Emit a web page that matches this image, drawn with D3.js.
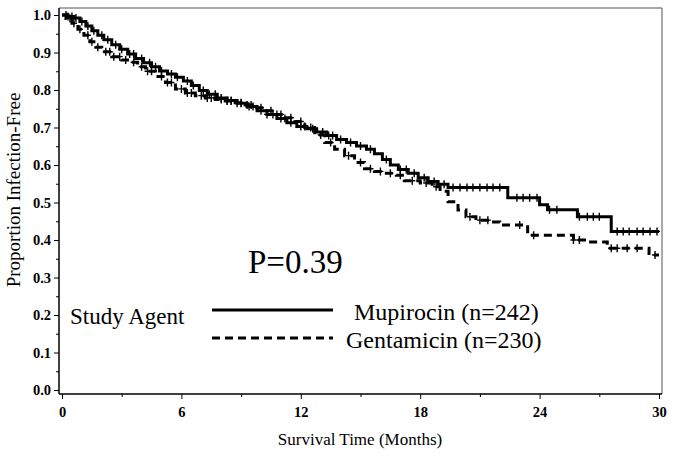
<!DOCTYPE html>
<html>
<head>
<meta charset="utf-8">
<script src="https://cdn.jsdelivr.net/npm/d3@7"></script>
<style>
  body { margin: 0; background: #fff; }
  svg { display: block; }
  text { font-family: "Liberation Serif", "Times New Roman", serif; fill: #000; }
  .tick text { font-weight: bold; font-size: 14.5px; }
</style>
</head>
<body>
<svg id="chart" width="673" height="462"></svg>
<script>
// Kaplan-Meier estimates (months, proportion infection-free)
const mupTimes = [0, 0.3, 0.6, 0.9, 1.2, 1.5, 1.8, 2.1, 2.5, 2.9, 3.3, 3.7, 4.1, 4.5, 4.9, 5.3, 5.7, 6.1, 6.5, 6.9,
  7.3, 7.8, 8.3, 8.8, 9.3, 9.8, 10.3, 10.8, 11.3, 11.8, 12.3, 12.8, 13.3, 13.8, 14.3, 14.8, 15.3, 15.7, 16.1, 16.5,
  16.9, 17.4, 17.9, 18.4, 18.9, 19.4, 22.4, 24.0, 24.4, 25.9, 27.6];
const mupSurv = [1.0, 0.996, 0.992, 0.983, 0.971, 0.958, 0.946, 0.934, 0.921, 0.909, 0.896, 0.884, 0.873, 0.862, 0.851, 0.843, 0.834, 0.824, 0.812, 0.799,
  0.789, 0.779, 0.772, 0.765, 0.756, 0.745, 0.735, 0.724, 0.713, 0.703, 0.697, 0.688, 0.679, 0.668, 0.660, 0.651, 0.642, 0.630, 0.615, 0.600,
  0.588, 0.578, 0.566, 0.556, 0.549, 0.540, 0.513, 0.494, 0.481, 0.462, 0.423];
const mupCensor = [0.2, 0.3, 0.5, 0.7, 1.0, 1.3, 1.6, 2.0, 2.3, 2.7, 3.0, 3.4, 3.6, 4.0, 4.4, 4.7, 5.0, 5.5, 5.8, 6.3,
  6.6, 7.1, 7.4, 7.7, 8.0, 8.3, 8.5, 8.8, 9.0, 9.4, 9.6, 10.0, 10.3, 10.6, 11.0, 11.2, 11.5, 12.0, 12.2, 12.6,
  13.1, 13.4, 13.6, 14.0, 14.5, 15.0, 15.5, 16.3, 17.0, 17.3, 17.7, 18.2, 18.7, 19.2, 19.65, 20.0, 20.35, 20.65, 21.0, 21.36,
  21.66, 22.0, 22.86, 23.17, 23.5, 23.87, 24.5, 24.87, 26.0, 26.4, 26.7, 27.0, 27.9, 28.2, 28.5, 28.9, 29.2, 29.55, 29.9];

const genTimes = [0, 0.2, 0.5, 0.8, 1.1, 1.4, 1.7, 2.0, 2.5, 3.0, 3.4, 3.8, 4.2, 4.7, 5.2, 5.7, 6.2, 6.7, 7.2, 7.7,
  8.2, 8.7, 9.2, 9.7, 10.2, 10.7, 11.2, 11.7, 12.2, 12.7, 13.2, 13.7, 14.2, 14.7, 15.2, 15.7, 16.3, 16.8, 17.2, 18.0,
  18.6, 19.0, 19.4, 19.9, 20.3, 20.8, 21.6, 22.0, 23.4, 25.7, 26.4, 27.4, 29.5];
const genSurv = [1.0, 0.991, 0.978, 0.962, 0.946, 0.929, 0.914, 0.902, 0.889, 0.880, 0.874, 0.862, 0.850, 0.836, 0.820, 0.803, 0.792, 0.785, 0.779, 0.775,
  0.771, 0.766, 0.760, 0.753, 0.745, 0.735, 0.726, 0.716, 0.700, 0.680, 0.660, 0.642, 0.625, 0.607, 0.590, 0.583, 0.578, 0.573, 0.558, 0.552,
  0.542, 0.530, 0.502, 0.480, 0.462, 0.453, 0.448, 0.440, 0.413, 0.400, 0.395, 0.378, 0.360];
const genCensor = [0.4, 0.6, 0.9, 1.3, 1.5, 1.8, 2.2, 2.4, 2.6, 2.9, 3.2, 3.6, 4.0, 4.3, 4.5, 5.0, 5.3, 5.5, 6.0, 6.3,
  6.5, 7.0, 7.3, 7.5, 8.0, 8.3, 8.5, 9.0, 9.3, 9.5, 10.0, 10.5, 10.8, 11.0, 11.5, 12.0, 12.5, 13.0, 13.5, 14.4,
  15.0, 15.5, 16.0, 16.5, 17.0, 17.6, 18.3, 18.8, 20.5, 21.0, 21.4, 23.0, 23.7, 25.7, 26.0, 27.6, 27.9, 28.4, 28.9, 29.8];

const xMajor = [0, 6, 12, 18, 24, 30];
const xMinor = [3, 9, 15, 21, 27];
const yMajor = [0.0, 0.1, 0.2, 0.3, 0.4, 0.5, 0.6, 0.7, 0.8, 0.9, 1.0];
const yMinor = [0.05, 0.15, 0.25, 0.35, 0.45, 0.55, 0.65, 0.75, 0.85, 0.95];

const legendLabels = ["Mupirocin (n=242)", "Gentamicin (n=230)"];
const pValue = "P=0.39";

const svg = d3.select("#chart");

const frame = { left: 59, right: 662, top: 8, bottom: 394 };
const x = d3.scaleLinear().domain([0, 30]).range([62, 659]);
const y = d3.scaleLinear().domain([0, 1]).range([390, 15]);

// frame top / right
svg.append("line").attr("x1", frame.left).attr("x2", frame.right)
  .attr("y1", frame.top).attr("y2", frame.top)
  .attr("stroke", "#555").attr("stroke-width", 1);
svg.append("line").attr("x1", frame.right).attr("x2", frame.right)
  .attr("y1", frame.top).attr("y2", frame.bottom)
  .attr("stroke", "#555").attr("stroke-width", 1);

// y axis
const yAx = svg.append("g").attr("transform", "translate(" + frame.left + ",0)")
  .call(d3.axisLeft(y).tickValues(yMajor).tickFormat(d3.format(".1f")).tickSize(5).tickSizeOuter(0).tickPadding(3));
yAx.select(".domain").attr("d", "M0," + frame.top + "V" + frame.bottom).attr("stroke-width", 1.5);
svg.append("g").attr("transform", "translate(" + frame.left + ",0)")
  .call(d3.axisLeft(y).tickValues(yMinor).tickFormat("").tickSize(3))
  .select(".domain").remove();

// x axis
const xAx = svg.append("g").attr("transform", "translate(0," + frame.bottom + ")")
  .call(d3.axisBottom(x).tickValues(xMajor).tickFormat(d3.format("d")).tickSize(5).tickSizeOuter(0).tickPadding(8));
xAx.select(".domain").attr("d", "M" + frame.left + ",0H" + frame.right).attr("stroke-width", 1.5);
svg.append("g").attr("transform", "translate(0," + frame.bottom + ")")
  .call(d3.axisBottom(x).tickValues(xMinor).tickFormat("").tickSize(3))
  .select(".domain").remove();

// axis titles
svg.append("text")
  .attr("transform", "translate(20,190) rotate(-90)")
  .attr("text-anchor", "middle")
  .style("font-size", "19px")
  .text("Proportion Infection-Free");
svg.append("text")
  .attr("x", 360).attr("y", 445)
  .attr("text-anchor", "middle")
  .style("font-size", "17px")
  .text("Survival Time (Months)");

// step curves
function stepData(times, surv) {
  const pts = times.map((t, i) => [t, surv[i]]);
  pts.push([30, surv[surv.length - 1]]);
  return pts;
}
function survAt(times, surv, t) {
  const i = d3.bisectRight(times, t) - 1;
  return surv[Math.max(0, i)];
}

const line = d3.line()
  .x(d => x(d[0]))
  .y(d => y(d[1]))
  .curve(d3.curveStepAfter);

const series = [
  { times: mupTimes, surv: mupSurv, censor: mupCensor, dash: null },
  { times: genTimes, surv: genSurv, censor: genCensor, dash: "8,5" }
];

series.forEach(s => {
  svg.append("path")
    .datum(stepData(s.times, s.surv))
    .attr("d", line)
    .attr("fill", "none")
    .attr("stroke", "#000")
    .attr("stroke-width", 3)
    .attr("stroke-dasharray", s.dash);

  svg.append("g").selectAll("path")
    .data(s.censor)
    .join("path")
    .attr("d", t => {
      const cx = x(t), cy = y(survAt(s.times, s.surv, t));
      return "M" + (cx - 3) + "," + cy + "H" + (cx + 3) + "M" + cx + "," + (cy - 4) + "V" + (cy + 4);
    })
    .attr("stroke", "#000")
    .attr("stroke-width", 1.4);
});

// p value
svg.append("text")
  .attr("x", 248).attr("y", 273)
  .style("font-size", "33px")
  .text(pValue);

// legend
svg.append("text")
  .attr("x", 70).attr("y", 324)
  .style("font-size", "23px")
  .text("Study Agent");

const legY = [310, 338];
const legX = [354, 346];
legendLabels.forEach((lab, i) => {
  svg.append("line")
    .attr("x1", 212).attr("x2", 333)
    .attr("y1", legY[i]).attr("y2", legY[i])
    .attr("stroke", "#000").attr("stroke-width", 3)
    .attr("stroke-dasharray", series[i].dash);
  svg.append("text")
    .attr("x", legX[i]).attr("y", legY[i] + 10)
    .style("font-size", "24px")
    .text(lab);
});
</script>
</body>
</html>
